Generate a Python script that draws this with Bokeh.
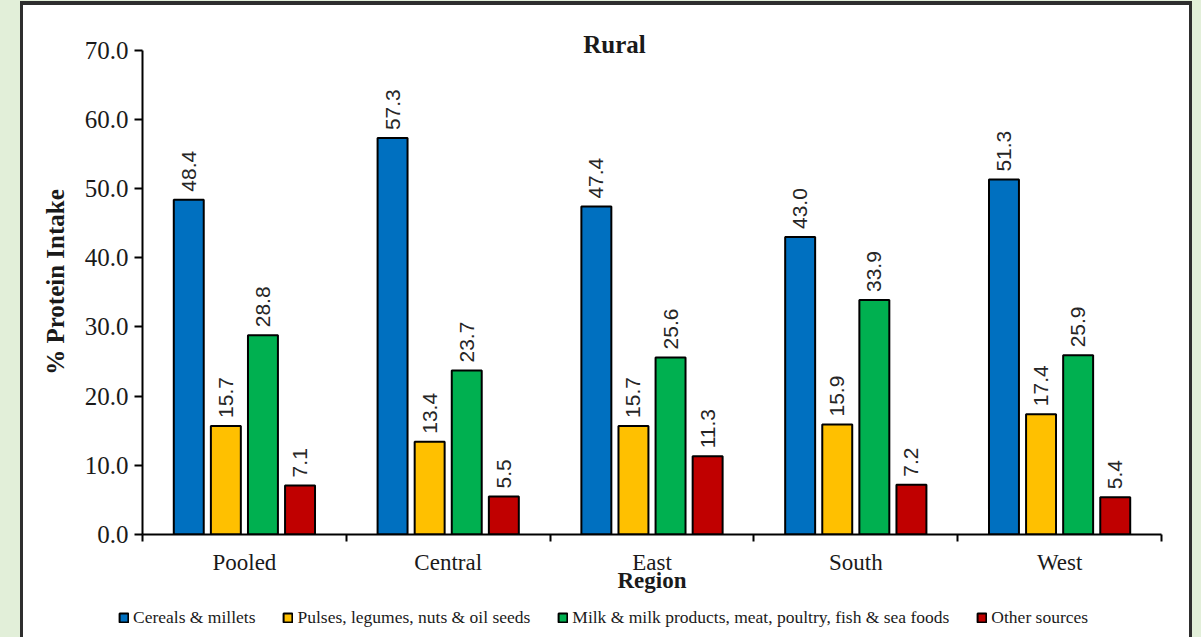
from math import pi

from bokeh.core.properties import value
from bokeh.embed import file_html
from bokeh.layouts import column, row
from bokeh.models import (ColumnDataSource, FixedTicker, Label, Legend, LegendItem,
                          LinearAxis, NumeralTickFormatter, Range1d, Spacer)
from bokeh.plotting import figure
from bokeh.resources import INLINE

# ---- data: share of protein intake (%) by food group, rural households ----
regions = ["Pooled", "Central", "East", "South", "West"]
cereals = [48.4, 57.3, 47.4, 43.0, 51.3]
pulses = [15.7, 13.4, 15.7, 15.9, 17.4]
animal = [28.8, 23.7, 25.6, 33.9, 25.9]
other = [7.1, 5.5, 11.3, 7.2, 5.4]

series_names = [
    "Cereals & millets",
    "Pulses, legumes, nuts & oil seeds",
    "Milk & milk products, meat, poultry, fish & sea foods",
    "Other sources",
]
series_values = [cereals, pulses, animal, other]
y_ticks = [0, 10, 20, 30, 40, 50, 60, 70]

# ---- styling ----
colors = ["#0070c0", "#ffc000", "#00b050", "#c00000"]
offsets = [-0.273, -0.091, 0.091, 0.273]
bar_width = 0.147
page_bg = "#e2efd9"
edge = "#2e2e2e"
ink = "#1a1a1a"
serif = "Liberation Serif"

n = len(regions)
centers = [i + 0.5 for i in range(n)]
boundaries = list(range(n + 1))

p = figure(
    x_range=Range1d(0, n),
    y_range=Range1d(0, 73),
    width=1166, height=600,
    output_backend="svg", toolbar_location=None,
    x_axis_location=None, y_axis_location=None,
    min_border_left=119, min_border_right=28,
    min_border_top=24, min_border_bottom=71,
    background_fill_color="white", border_fill_color="white",
    outline_line_color=None,
)
p.frame_align = False
p.grid.visible = False

# value axis
yaxis = LinearAxis(
    ticker=FixedTicker(ticks=y_ticks),
    formatter=NumeralTickFormatter(format="0.0"),
    bounds=(0, 70),
    axis_label="% Protein Intake",
    axis_label_text_font=serif, axis_label_text_font_style="bold",
    axis_label_text_font_size="25px", axis_label_text_color=ink,
    axis_label_standoff=13,
    major_label_text_font=serif, major_label_text_font_size="25px",
    major_label_text_color=ink, major_label_standoff=6,
    axis_line_width=2, axis_line_color="black",
    major_tick_line_width=2, major_tick_line_color="black",
    major_tick_in=0, major_tick_out=8,
    minor_tick_line_color=None,
)
p.add_layout(yaxis, "left")

# region axis: names under each group, tick marks between the groups
xaxis = LinearAxis(
    ticker=FixedTicker(ticks=centers, minor_ticks=boundaries),
    major_label_overrides={c: r for c, r in zip(centers, regions)},
    axis_line_width=2, axis_line_color="black",
    major_tick_line_color=None, major_tick_in=0, major_tick_out=0,
    minor_tick_line_color="black", minor_tick_line_width=2,
    minor_tick_in=0, minor_tick_out=7,
    major_label_text_font=serif, major_label_text_font_size="23px",
    major_label_text_color=ink, major_label_standoff=8,
    axis_label="Region",
    axis_label_text_font=serif, axis_label_text_font_style="bold",
    axis_label_text_font_size="23px", axis_label_text_color=ink,
    axis_label_standoff=-10,
)
p.add_layout(xaxis, "below")

sources = []
for vals, color, off in zip(series_values, colors, offsets):
    src = ColumnDataSource(dict(
        x=[c + off for c in centers],
        value=vals,
        label=[f"{v:.1f}" for v in vals],
    ))
    sources.append(src)
    p.vbar(x="x", top="value", width=bar_width, bottom=0, source=src,
           fill_color=color, line_color="black", line_width=2)
    p.text(x="x", y="value", text="label", source=src,
           angle=pi / 2, text_align="left", text_baseline="middle",
           y_offset=-8, text_font=value("Liberation Sans"),
           text_font_size="21px", text_color="#262626")

p.add_layout(Label(
    x=2.316, y=70.85, text="Rural",
    text_align="center", text_baseline="middle",
    text_font=serif, text_font_style="bold", text_font_size="25px",
    text_color=ink,
))

# legend strip beneath the chart (hidden key renderers carry the swatch styles)
leg = figure(
    width=1166, height=32, x_range=Range1d(0, n), y_range=Range1d(0, 73),
    output_backend="svg", toolbar_location=None,
    x_axis_location=None, y_axis_location=None,
    min_border_left=0, min_border_right=0, min_border_top=0, min_border_bottom=0,
    background_fill_color="white", border_fill_color="white",
    outline_line_color=None,
)
leg.frame_align = False
leg.grid.visible = False
legend_items = []
for name, color, src in zip(series_names, colors, sources):
    key = leg.vbar(x="x", top="value", width=bar_width, source=src,
                   fill_color=color, line_color="black", line_width=2,
                   visible=False)
    legend_items.append(LegendItem(label=name, renderers=[key]))

legend = Legend(
    items=legend_items, orientation="horizontal",
    location=(95, 9),
    glyph_width=11, glyph_height=11, label_standoff=4, spacing=27,
    padding=0, margin=0,
    label_text_font=serif, label_text_font_size="17.5px", label_text_color=ink,
    border_line_color=None, background_fill_alpha=0,
    inactive_fill_alpha=0,
)
leg.add_layout(legend, "center")

# framed panel on the light green page
dark = {"background-color": edge}
green = {"background-color": page_bg}
layout = row(
    Spacer(width=20, height=637, styles=green),
    column(Spacer(width=3, height=1, styles=green), Spacer(width=3, height=636, styles=dark)),
    column(Spacer(width=1166, height=1, styles=green),
           Spacer(width=1166, height=4, styles=dark),
           p, leg,
           styles={"background-color": "white"}),
    column(Spacer(width=3, height=1, styles=green), Spacer(width=3, height=636, styles=dark)),
    Spacer(width=9, height=637, styles=green),
    styles=green,
)

open("out.html", "w").write(file_html(layout, INLINE))
